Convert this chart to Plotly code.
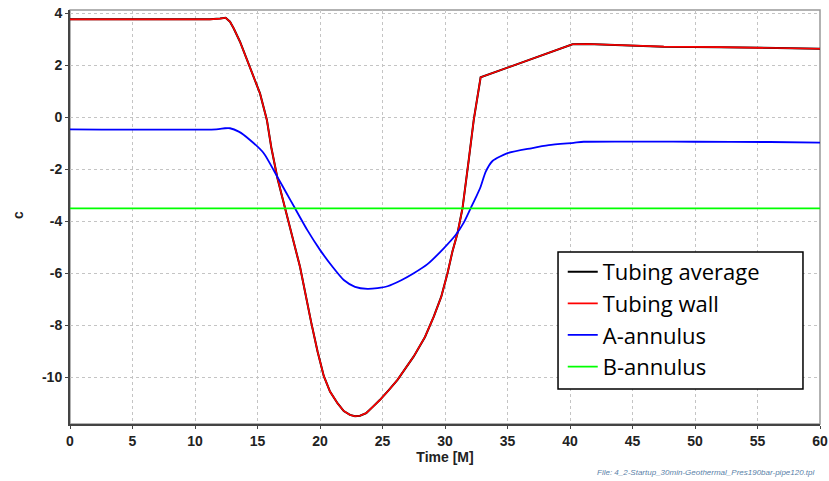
import plotly.graph_objects as go

# ---- data ----
wall_x = [0, 11.2, 12.0, 12.45, 12.8, 13.1, 13.6, 14.4, 15.2, 15.75, 16.1, 16.6, 17.2, 18.0, 18.4, 19.3,
          19.8, 20.3, 20.8, 21.4, 21.9, 22.4, 22.8, 23.2, 23.7, 24.2, 24.8, 25.5, 26.2, 27.5, 28.4,
          29.1, 29.7, 30.2, 30.6, 31.0, 31.4, 31.9, 32.3, 32.85,
          40.2, 41.4, 44.9, 47.5, 52.0, 56.1, 60]
wall_y = [3.77, 3.77, 3.80, 3.83, 3.68, 3.42, 2.91, 1.95, 0.92, -0.1, -1.15, -2.35, -3.5, -5.0, -5.75, -7.9,
          -9.0, -9.95, -10.55, -11.0, -11.3, -11.45, -11.5, -11.48, -11.38, -11.15, -10.87, -10.5, -10.1, -9.2, -8.45,
          -7.67, -6.9, -6.0, -5.15, -4.46, -3.5, -1.64, -0.1, 1.54,
          2.81, 2.82, 2.76, 2.72, 2.70, 2.68, 2.64]
avg_x = wall_x
avg_y = wall_y

a_x = [0, 11.7, 12.4, 12.8, 13.5, 14.4, 15.5, 16.6, 17.3, 18.0, 19.0, 20.0, 21.0, 21.9, 22.8,
       23.8, 24.6, 25.4, 26.5, 27.5, 28.6, 29.9, 30.85, 31.5, 32.05, 32.5, 32.85, 33.25, 33.8,
       35.0, 36.9, 38.3, 40.3, 41.1, 50, 56, 60]
a_y = [-0.46, -0.46, -0.42, -0.42, -0.55, -0.87, -1.38, -2.3, -2.9, -3.5, -4.35, -5.1, -5.75, -6.26, -6.52,
       -6.6, -6.57, -6.5, -6.27, -6.0, -5.65, -5.04, -4.53, -4.05, -3.5, -3.05, -2.67, -2.1, -1.68,
       -1.38, -1.19, -1.07, -0.98, -0.94, -0.94, -0.95, -0.97]
b_x = [0, 60]
b_y = [-3.5, -3.5]

x_ticks = [0, 5, 10, 15, 20, 25, 30, 35, 40, 45, 50, 55, 60]
y_ticks = [4, 2, 0, -2, -4, -6, -8, -10]
y_labels = ["4", "2", "0", "-2", "-4", "-6", "-8", "-10"]

fig = go.Figure()
fig.add_trace(go.Scatter(x=avg_x, y=avg_y, mode="lines", name="Tubing average",
                         line=dict(color="black", width=2), legendgroup="g1"))
fig.add_trace(go.Scatter(x=wall_x, y=wall_y, mode="lines", name="Tubing wall",
                         line=dict(color="#ff0000", width=1.6), legendgroup="g2"))
fig.add_trace(go.Scatter(x=a_x, y=a_y, mode="lines", name="A-annulus",
                         line=dict(color="#0000ff", width=1.8, shape="spline", smoothing=0.6),
                         legendgroup="g3"))
fig.add_trace(go.Scatter(x=b_x, y=b_y, mode="lines", name="B-annulus",
                         line=dict(color="#00ff00", width=1.8), legendgroup="g4"))

tickfont = dict(family="Liberation Sans, Arial", size=14, color="#222222")
titlefont = dict(family="Liberation Sans, Arial", size=14, color="#222222")
fig.update_layout(
    width=829, height=481,
    margin=dict(l=70, r=9, t=10, b=57, autoexpand=False),
    paper_bgcolor="white", plot_bgcolor="white",
    showlegend=True,
    legend=dict(x=0.657, y=0.418, xanchor="left", yanchor="top",
                bgcolor="rgba(0,0,0,0)", borderwidth=0,
                font=dict(family="Open Sans", size=22, color="black"),
                tracegroupgap=0),
    xaxis=dict(range=[0, 60], tickvals=x_ticks, ticktext=["<b>%d</b>" % v for v in x_ticks],
               showgrid=True, gridcolor="#c4c4c4",
               griddash="dot", gridwidth=1, zeroline=False, showline=True, automargin=False,
               linecolor="#444444", linewidth=2, ticks="outside", ticklen=3,
               tickcolor="#444444", tickfont=tickfont,
               title=dict(text="<b>Time [M]</b>", font=titlefont, standoff=0)),
    yaxis=dict(range=[-11.8, 4.13], tickvals=y_ticks, ticktext=["<b>%s</b>" % t for t in y_labels],
               showgrid=True, gridcolor="#c4c4c4", griddash="dot", gridwidth=1, automargin=False,
               zeroline=False, showline=True, linecolor="#444444", linewidth=2,
               ticks="outside", ticklen=3, tickcolor="#444444", tickfont=tickfont),
)

# y-axis title
fig.add_annotation(text="<b>c</b>", xref="paper", yref="paper", x=-0.0693, y=0.505,
                   xanchor="center", yanchor="middle", textangle=-90, showarrow=False,
                   font=titlefont)

# frame (top/right border) and legend box
fig.add_shape(type="rect", xref="paper", yref="paper", x0=0, x1=1, y0=0, y1=1,
              line=dict(color="#999999", width=1.5), fillcolor="rgba(0,0,0,0)", layer="below")
fig.add_shape(type="rect", xref="paper", yref="paper", x0=0.6507, x1=0.9773, y0=0.0845, y1=0.4155,
              line=dict(color="black", width=1.5), fillcolor="white", layer="above")

fig.add_annotation(text="<i>File: 4_2-Startup_30min-Geothermal_Pres190bar-pipe120.tpl</i>",
                   xref="paper", yref="paper", x=0.996, y=-0.116, xanchor="right", yanchor="middle",
                   showarrow=False, font=dict(family="Liberation Sans, Arial", size=8, color="#5a7fa8"))

fig.write_html("out.html")
